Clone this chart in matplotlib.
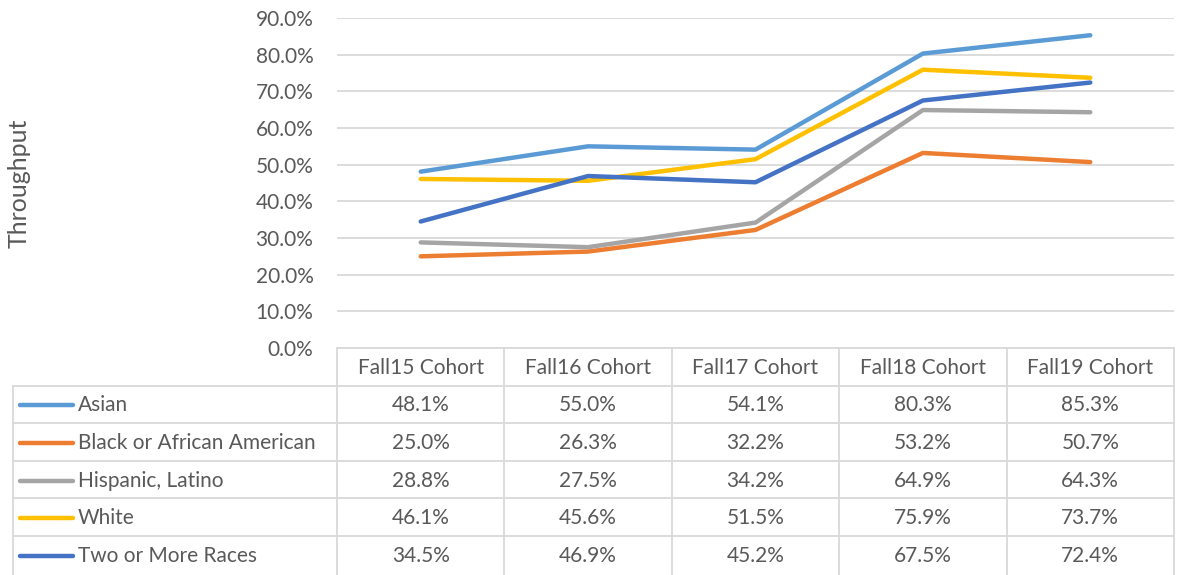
import numpy as np
import matplotlib.pyplot as plt
from matplotlib.lines import Line2D

cohorts = ["Fall15 Cohort", "Fall16 Cohort", "Fall17 Cohort", "Fall18 Cohort", "Fall19 Cohort"]
groups = ["Asian", "Black or African American", "Hispanic, Latino", "White", "Two or More Races"]
asian = [48.1, 55.0, 54.1, 80.3, 85.3]
black = [25.0, 26.3, 32.2, 53.2, 50.7]
hispanic = [28.8, 27.5, 34.2, 64.9, 64.3]
white = [46.1, 45.6, 51.5, 75.9, 73.7]
two_more = [34.5, 46.9, 45.2, 67.5, 72.4]
colors = ["#5B9BD5", "#ED7D31", "#A5A5A5", "#FFC000", "#4472C4"]

series = [asian, black, hispanic, white, two_more]

plt.rcParams['font.family'] = ['Lato', 'DejaVu Sans']
txt = "#595959"
grid = "#D9D9D9"
fs = 15

W, H = 1178, 575
fig = plt.figure(figsize=(W / 100, H / 100), dpi=100)

# plot area in pixels
px0, px1 = 337, 1174
py_top, py_bot = 18, 348
ax = fig.add_axes([px0 / W, 1 - py_bot / H, (px1 - px0) / W, (py_bot - py_top) / H])

x = np.arange(len(cohorts))
for vals, c in zip(series, colors):
    ax.plot(x, vals, color=c, lw=3.2, solid_capstyle='round', zorder=3)

ax.set_xlim(-0.5, len(cohorts) - 0.5)
ax.set_ylim(0, 90)
ax.set_yticks(np.arange(0, 91, 10))
ax.set_yticklabels([f"{v:.1f}%" for v in np.arange(0, 91, 10)], color=txt, fontsize=fs)
ax.tick_params(axis='y', length=0, pad=17)
ax.set_xticks([])
ax.grid(axis='y', color=grid, lw=1.3)
for s in ax.spines.values():
    s.set_visible(False)

fig.text(19 / W, 1 - 183 / H, "Throughput", rotation=90, ha='center', va='center',
         color=txt, fontsize=18)

# data table drawn in pixel space
tab = fig.add_axes([0, 0, 1, 1])
tab.set_xlim(0, W)
tab.set_ylim(H, 0)
tab.axis('off')

col_w = (px1 - px0) / len(cohorts)
col_x = [px0 + i * col_w for i in range(len(cohorts) + 1)]
left = 13
row_h = 37.6
row_y = [py_bot + i * row_h for i in range(len(groups) + 2)]
lw = 1.3

# header row
tab.add_line(Line2D([px0, px1], [row_y[0], row_y[0]], color=grid, lw=lw))
for xx in col_x:
    tab.add_line(Line2D([xx, xx], [row_y[0], H], color=grid, lw=lw))
tab.add_line(Line2D([left, left], [row_y[1], H], color=grid, lw=lw))
for yy in row_y[1:-1]:
    tab.add_line(Line2D([left, px1], [yy, yy], color=grid, lw=lw))

for i, name in enumerate(cohorts):
    tab.text((col_x[i] + col_x[i + 1]) / 2, (row_y[0] + row_y[1]) / 2 + 1, name,
             ha='center', va='center', color=txt, fontsize=fs)

for r, (name, vals, c) in enumerate(zip(groups, series, colors)):
    yc = (row_y[r + 1] + row_y[r + 2]) / 2 + 1
    tab.add_line(Line2D([20, 73], [yc, yc], color=c, lw=3.2, solid_capstyle='round'))
    tab.text(78, yc, name, ha='left', va='center', color=txt, fontsize=fs)
    for i, v in enumerate(vals):
        tab.text((col_x[i] + col_x[i + 1]) / 2, yc, f"{v:.1f}%",
                 ha='center', va='center', color=txt, fontsize=fs)

fig.savefig("out.png", dpi=100)
